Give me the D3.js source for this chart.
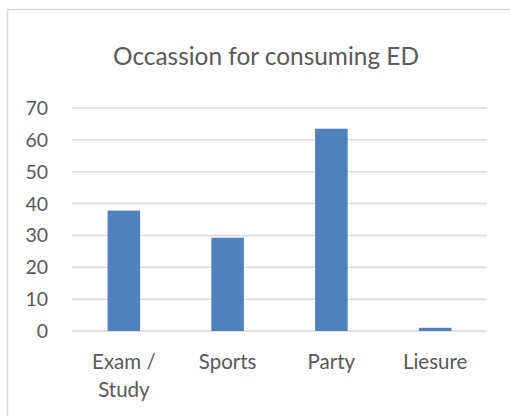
<!DOCTYPE html>
<html>
<head>
<meta charset="utf-8">
<script src="https://cdn.jsdelivr.net/npm/d3@7"></script>
<style>
  body { margin: 0; background: #fff; }
  text { font-family: Lato, "Open Sans", sans-serif; fill: #595959; }
</style>
</head>
<body>
<div id="chart"></div>
<script>
// data
const categories = ['Exam / Study', 'Sports', 'Party', 'Liesure'];
const values = [37.8, 29.3, 63.5, 1.0];
const yTicks = [0, 10, 20, 30, 40, 50, 60, 70];
const title = 'Occassion for consuming ED';

const width = 510, height = 416;
const margin = { left: 72, right: 23, top: 108, bottom: 85 };

const svg = d3.select('#chart')
    .append('svg')
    .attr('width', width)
    .attr('height', height);

svg.append('rect')
    .attr('width', width)
    .attr('height', height)
    .attr('fill', '#fff');

// chart area border (right/bottom edges are cut off in the picture)
svg.append('rect')
    .attr('x', 7.5)
    .attr('y', 9.5)
    .attr('width', 520)
    .attr('height', 420)
    .attr('fill', 'none')
    .attr('stroke', '#d9d9d9')
    .attr('stroke-width', 1.5);

const x = d3.scaleBand()
    .domain(categories)
    .range([margin.left, width - margin.right])
    .paddingInner(0.686)
    .paddingOuter(0.343);

const y = d3.scaleLinear()
    .domain([0, 70])
    .range([height - margin.bottom, margin.top]);

// gridlines
svg.append('g')
    .selectAll('line')
    .data(yTicks)
    .join('line')
    .attr('x1', margin.left)
    .attr('x2', width - margin.right)
    .attr('y1', d => y(d))
    .attr('y2', d => y(d))
    .attr('stroke', '#d9d9d9')
    .attr('stroke-width', 1.5);

// y tick labels
svg.append('g')
    .selectAll('text')
    .data(yTicks)
    .join('text')
    .attr('x', 48)
    .attr('y', d => y(d))
    .attr('dy', '0.36em')
    .attr('text-anchor', 'end')
    .attr('font-size', 19.5)
    .text(d => d);

// bars
svg.append('g')
    .selectAll('rect')
    .data(values)
    .join('rect')
    .attr('x', (d, i) => x(categories[i]))
    .attr('y', d => y(d))
    .attr('width', x.bandwidth())
    .attr('height', d => y(0) - y(d))
    .attr('fill', '#4f81bd');

// category labels, wrapped like the original
const catLabel = svg.append('g')
    .selectAll('text')
    .data(categories)
    .join('text')
    .attr('text-anchor', 'middle')
    .attr('font-size', 20.5)
    .attr('x', d => x(d) + x.bandwidth() / 2)
    .attr('y', 369);

catLabel.each(function(d) {
    const parts = d.includes(' / ') ? [d.split(' / ')[0] + ' /', d.split(' / ')[1]] : [d];
    d3.select(this).selectAll('tspan')
        .data(parts)
        .join('tspan')
        .attr('x', x(d) + x.bandwidth() / 2)
        .attr('dy', (p, i) => i === 0 ? 0 : 28)
        .text(p => p);
});

svg.append('text')
    .attr('x', 266)
    .attr('y', 65)
    .attr('text-anchor', 'middle')
    .attr('font-size', 24.4)
    .text(title);
</script>
</body>
</html>
